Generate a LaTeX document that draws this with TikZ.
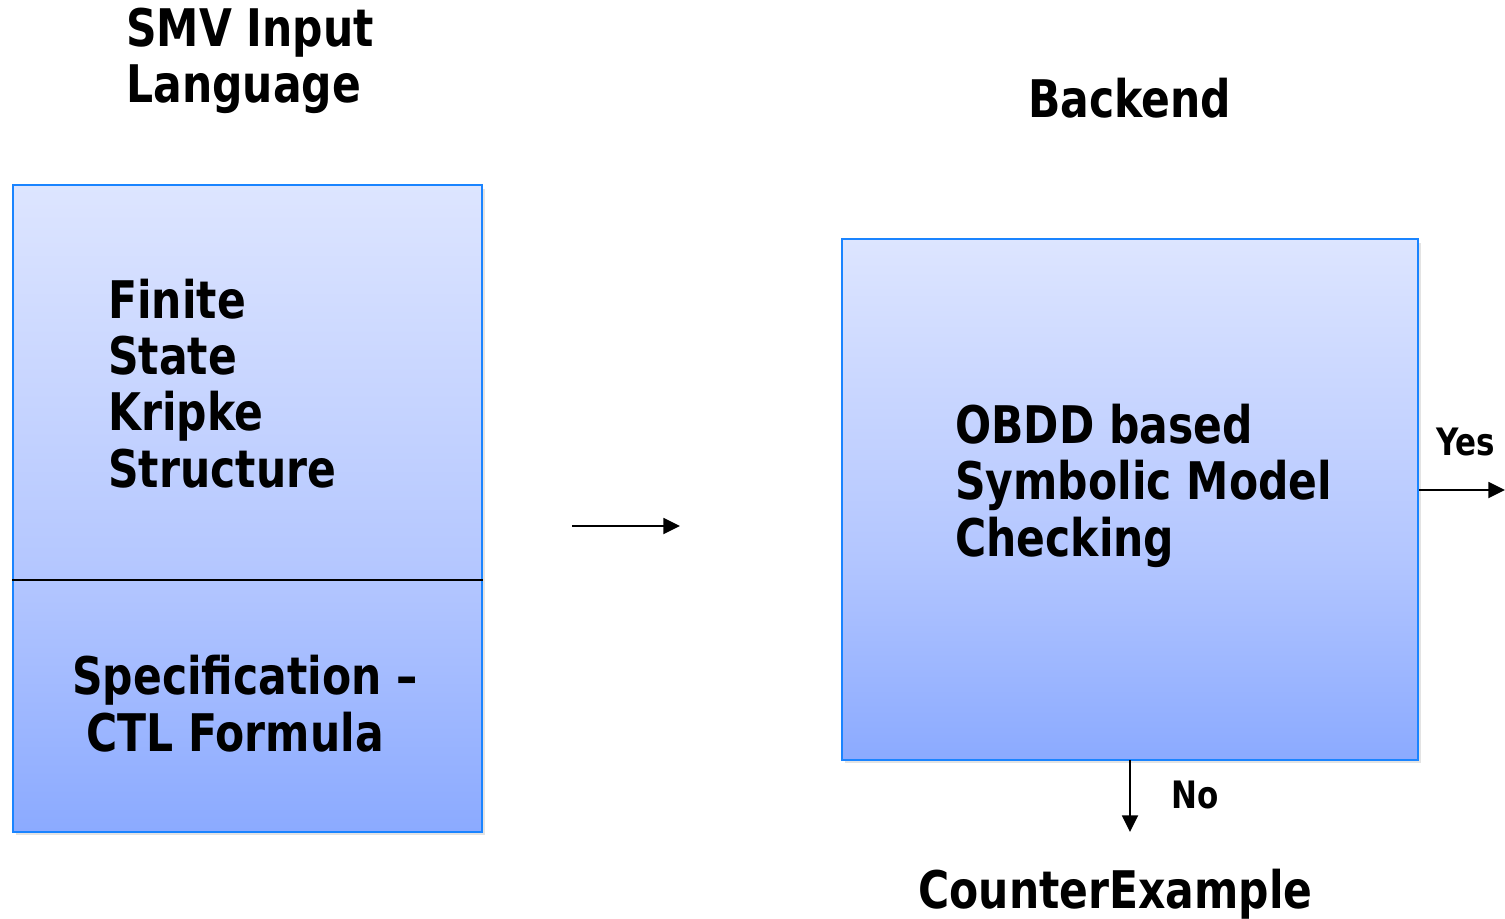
\documentclass[tikz,border=0pt]{standalone}
\usepackage{fontspec}
\setmainfont{DejaVu Sans}[FakeStretch=0.82]
\usetikzlibrary{arrows.meta,shadows}
\definecolor{bordblue}{HTML}{1A84FF}
\definecolor{gtop}{HTML}{DDE5FF}
\definecolor{gmid}{HTML}{B3C6FF}
\definecolor{gbot}{HTML}{8BAAFF}
\pgfdeclareverticalshading{boxshade}{100bp}{color(0bp)=(gbot); color(25bp)=(gbot); color(44.5bp)=(gmid); color(75bp)=(gtop); color(100bp)=(gtop)}
\tikzset{
  panel/.style={rectangle, draw=bordblue, line width=1.2pt, shading=boxshade, inner sep=0pt,
    drop shadow={opacity=0.22, shadow xshift=1.5pt, shadow yshift=-2pt}},
  bigtxt/.style={font=\fontsize{29.5}{32}\selectfont\bfseries, inner sep=0pt, align=left},
  smalltxt/.style={font=\fontsize{21.5}{24}\selectfont\bfseries, inner sep=0pt},
  arr/.style={line width=1.4pt, -{Triangle[length=9.5pt,width=9pt]}}
}
\begin{document}
\begin{tikzpicture}[x=0.02cm,y=-0.02cm]
\useasboundingbox (0,0) rectangle (1505,919);
% boxes
\node[panel, minimum width=9.38cm, minimum height=12.94cm] (smv) at (247.5,508.5) {};
\node[panel, minimum width=11.52cm, minimum height=10.42cm] (back) at (1130,499.5) {};
\coordinate (divl) at (smv.west |- 0,580);
\coordinate (divr) at (smv.east |- 0,580);
\draw[line width=1.4pt, black] (divl) -- (divr);
% texts
\node[bigtxt, anchor=base west] (title) at (126,103) {SMV Input\\Language};
\node[bigtxt, anchor=base west] (backend) at (1028,118) {Backend};
\node[bigtxt, anchor=base west] (fsk) at (108,487) {Finite\\State\\Kripke\\Structure};
\node[bigtxt, anchor=base west] (spec) at (72,751) {Specification --\\\hspace*{8pt}CTL Formula};
\node[bigtxt, anchor=base west] (obdd) at (955,556) {OBDD based\\Symbolic Model\\Checking};
\node[bigtxt, anchor=base west] (cex) at (918,908) {CounterExample};
\node[smalltxt, anchor=base west] (yes) at (1436,455) {Yes};
\node[smalltxt, anchor=base west] (no) at (1171,808) {No};
% arrows
\coordinate (ma) at (572,526);
\coordinate (mb) at (680,526);
\draw[arr] (ma) -- (mb);
\coordinate (yesend) at (1505,490);
\draw[arr] (back.east |- yesend) -- (yesend);
\coordinate (noend) at (1130,832);
\draw[arr] (back.south |- 0,760) -- (noend);
\end{tikzpicture}
\end{document}
